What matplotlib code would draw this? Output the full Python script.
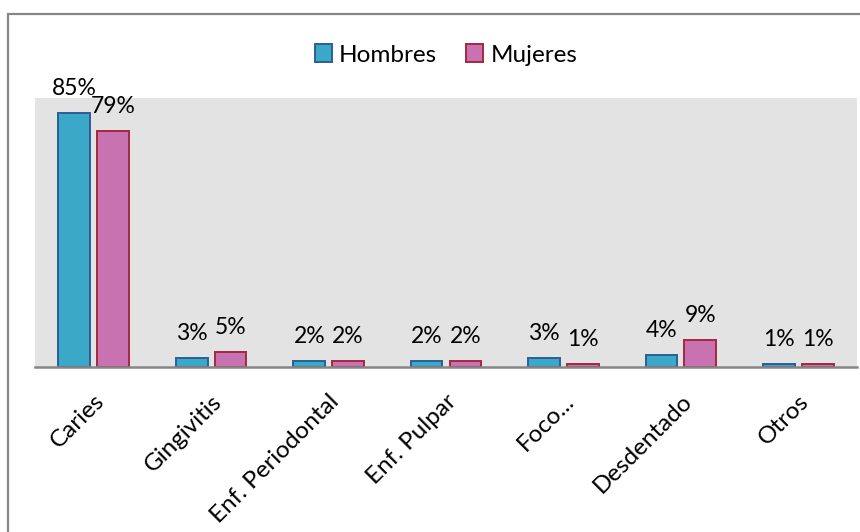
import matplotlib

matplotlib.use("Agg")
import matplotlib.pyplot as plt
import numpy as np
from matplotlib.patches import Patch, Rectangle

plt.rcParams["font.family"] = ["Lato", "DejaVu Sans"]

categories = ["Caries", "Gingivitis", "Enf. Periodontal", "Enf. Pulpar",
              "Foco...", "Desdentado", "Otros"]
hombres = [85, 3, 2, 2, 3, 4, 1]
mujeres = [79, 5, 2, 2, 1, 9, 1]
series_names = ["Hombres", "Mujeres"]

FILL = ["#3ba8c8", "#c872b2"]
EDGE = ["#2b5f96", "#a3283f"]
PLOT_BG = "#e3e3e3"
AXIS_GRAY = "#868686"

W, H = 8.6, 5.32
fig = plt.figure(figsize=(W, H), dpi=100)
fig.patch.set_facecolor("white")

# outer chart frame (only top and left edges fall inside the image)
fig.patches.append(Rectangle((8 / 860, -0.1), 1.1, (532 - 14) / 532 + 0.1,
                             transform=fig.transFigure, fill=False,
                             edgecolor=AXIS_GRAY, linewidth=1.6))

ax = fig.add_axes([35 / 860, (532 - 367) / 532, 822 / 860, (367 - 98) / 532])
ax.set_facecolor(PLOT_BG)

x = np.arange(len(categories))
bw = 0.27
off = 0.165
for vals, dx, fc, ec, name in [(hombres, -off, FILL[0], EDGE[0], series_names[0]),
                               (mujeres, off, FILL[1], EDGE[1], series_names[1])]:
    bars = ax.bar(x + dx, vals, bw, color=fc, edgecolor=ec, linewidth=1.4,
                  label=name, zorder=2)
    for b, v in zip(bars, vals):
        ax.annotate(f"{v}%", (b.get_x() + b.get_width() / 2, v),
                    xytext=(0, 13), textcoords="offset points",
                    ha="center", va="baseline", fontsize=16.5, color="black")

ax.set_xlim(-0.5, len(categories) - 0.5)
ax.set_ylim(0, 90)
ax.set_yticks([])
for s in ["top", "right", "left"]:
    ax.spines[s].set_visible(False)
ax.spines["bottom"].set_color(AXIS_GRAY)
ax.spines["bottom"].set_linewidth(1.8)
ax.spines["bottom"].set_zorder(3)

ax.set_xticks(x)
ax.set_xticklabels(categories, rotation=45, ha="right", va="top",
                   rotation_mode="anchor", fontsize=17.5)
ax.tick_params(axis="x", length=0, pad=17)

handles = [Patch(facecolor=FILL[i], edgecolor=EDGE[i], linewidth=1.4)
           for i in range(2)]
fig.legend(handles, series_names, loc="center", ncol=2, frameon=False,
           bbox_to_anchor=(446 / 860, (532 - 55) / 532), fontsize=17.5,
           handlelength=0.7, handleheight=0.7, handletextpad=0.3,
           columnspacing=1.2)

fig.savefig("out.png", dpi=100, facecolor="white")
